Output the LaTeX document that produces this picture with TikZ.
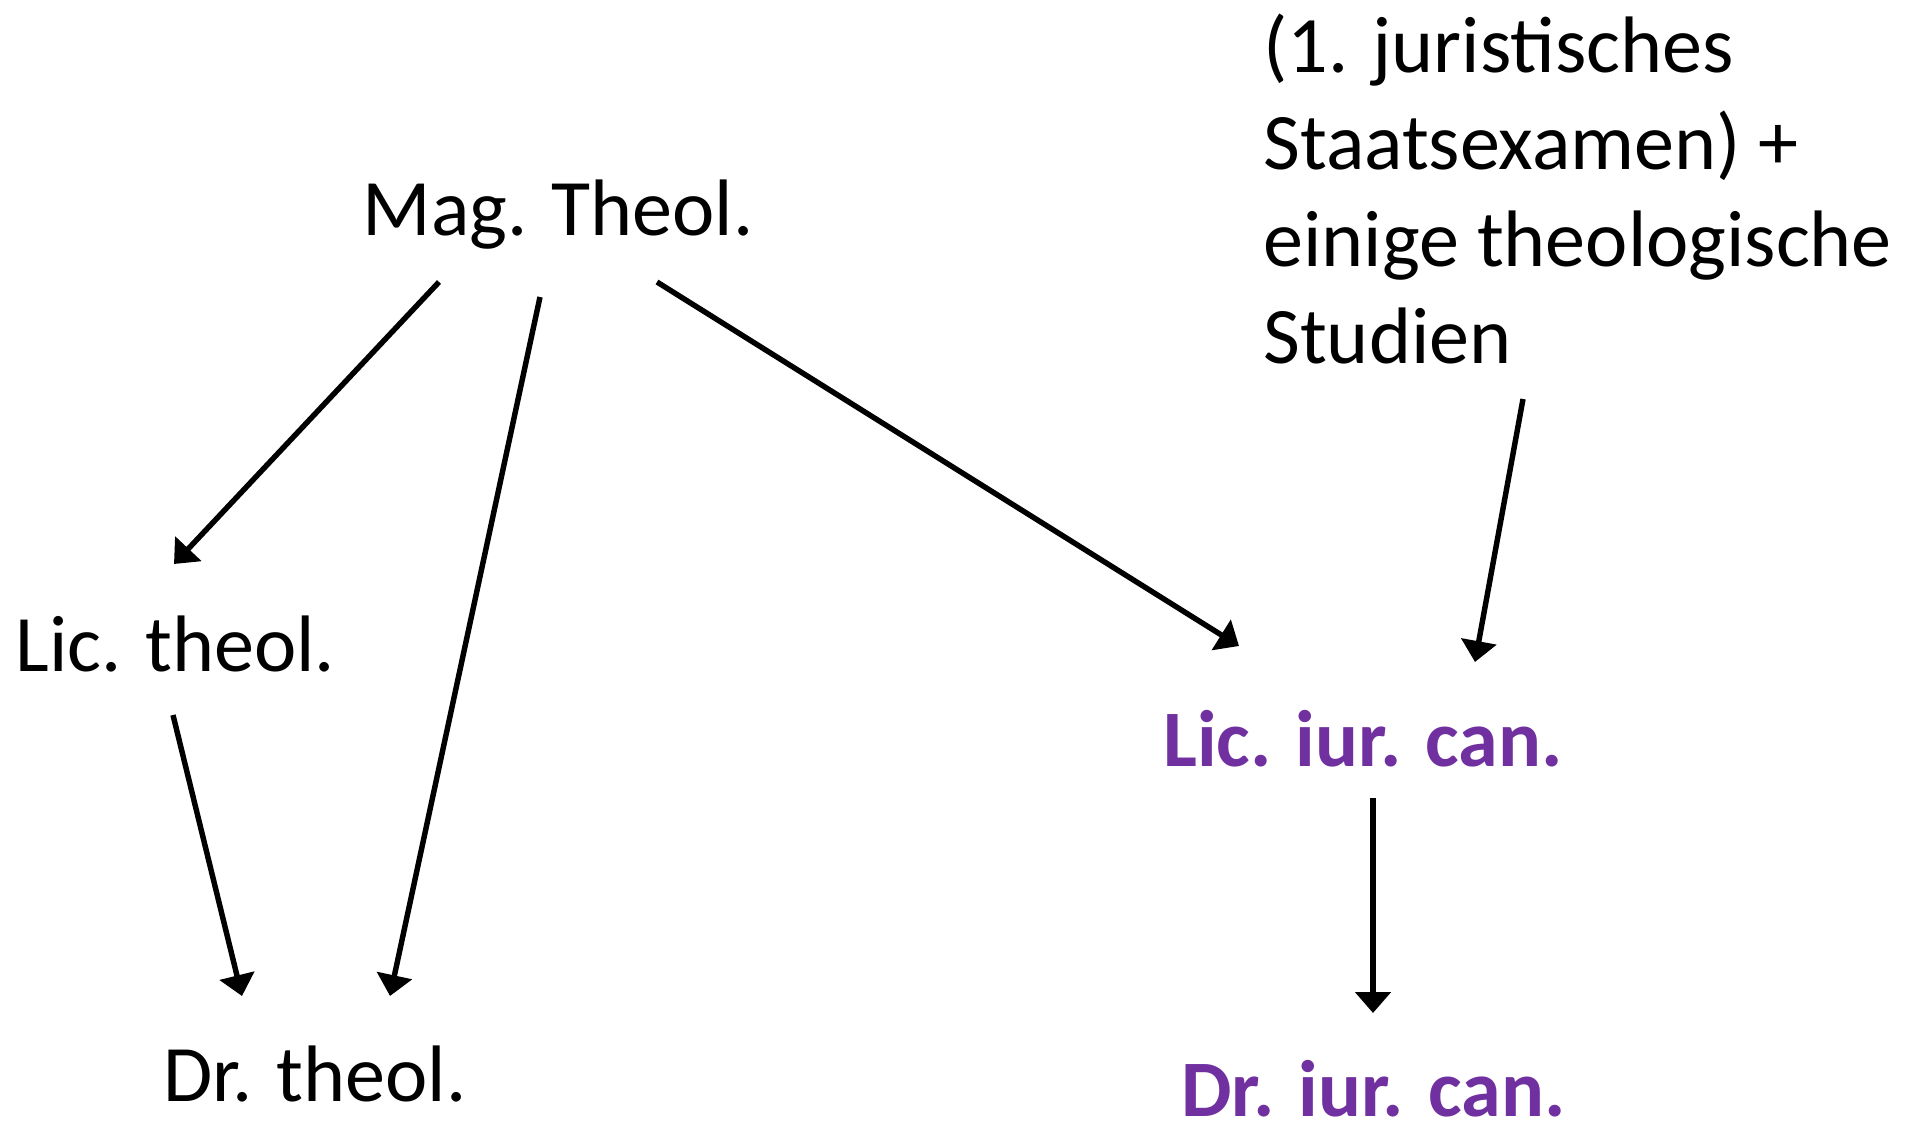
\documentclass[tikz,border=0pt]{standalone}
\usepackage{fontspec}
\setmainfont{Carlito}
\usepackage{tikz}
\usetikzlibrary{arrows.meta}

\definecolor{iurpurple}{HTML}{7030A0}

\begin{document}
\begin{tikzpicture}[x=0.02cm, y=-0.02cm,
    grad/.style={inner sep=0pt, font=\fontsize{45.6}{55.2}\selectfont},
    kan/.style={grad, text=iurpurple, font=\fontsize{45.6}{55.2}\selectfont\bfseries},
    pfeil/.style={line width=3.1pt, -{Triangle[width=0.7cm, length=0.42cm]}}]
	    \useasboundingbox (0,0) rectangle (1923,1126);
	    % Abschluesse
	    \node[grad, anchor=base] (mag) at (558,235) {Mag. Theol.};
	    \node[grad, anchor=base west] (lictheol) at (15,671) {Lic. theol.};
	    \node[grad, anchor=base west] (drtheol) at (163,1101) {Dr. theol.};
	    \node[kan, anchor=base west] (liciur) at (1163,766) {Lic. iur. can.};
	    \node[kan, anchor=base west] (driur) at (1181,1116) {Dr. iur. can.};
	    \node[grad, anchor=base west, align=left] (jura) at (1263,363)
	        {(1. juristisches\\Staatsexamen) +\\einige theologische\\Studien};
	    % Pfeilenden
	    \coordinate (magA) at (439,282);
	    \coordinate (magB) at (540,297);
	    \coordinate (magC) at (657,282);
	    \coordinate (juraA) at (1523,399);
	    \coordinate (lictheolA) at (173,715);
	    \coordinate (liciurA) at (1373,798);
	    \coordinate (lictheolE) at (174,564);
	    \coordinate (drtheolE) at (390,996);
	    \coordinate (drtheolF) at (242,996);
	    \coordinate (liciurE) at (1239,646);
	    \coordinate (liciurF) at (1475,662);
	    \coordinate (driurE) at (1373,1013);
	    \draw[pfeil] (magA)--(lictheolE);
	    \draw[pfeil] (magB)--(drtheolE);
	    \draw[pfeil] (magC)--(liciurE);
	    \draw[pfeil] (juraA)--(liciurF);
	    \draw[pfeil] (lictheolA)--(drtheolF);
	    \draw[pfeil] (liciurA)--(driurE);
\end{tikzpicture}
\end{document}
